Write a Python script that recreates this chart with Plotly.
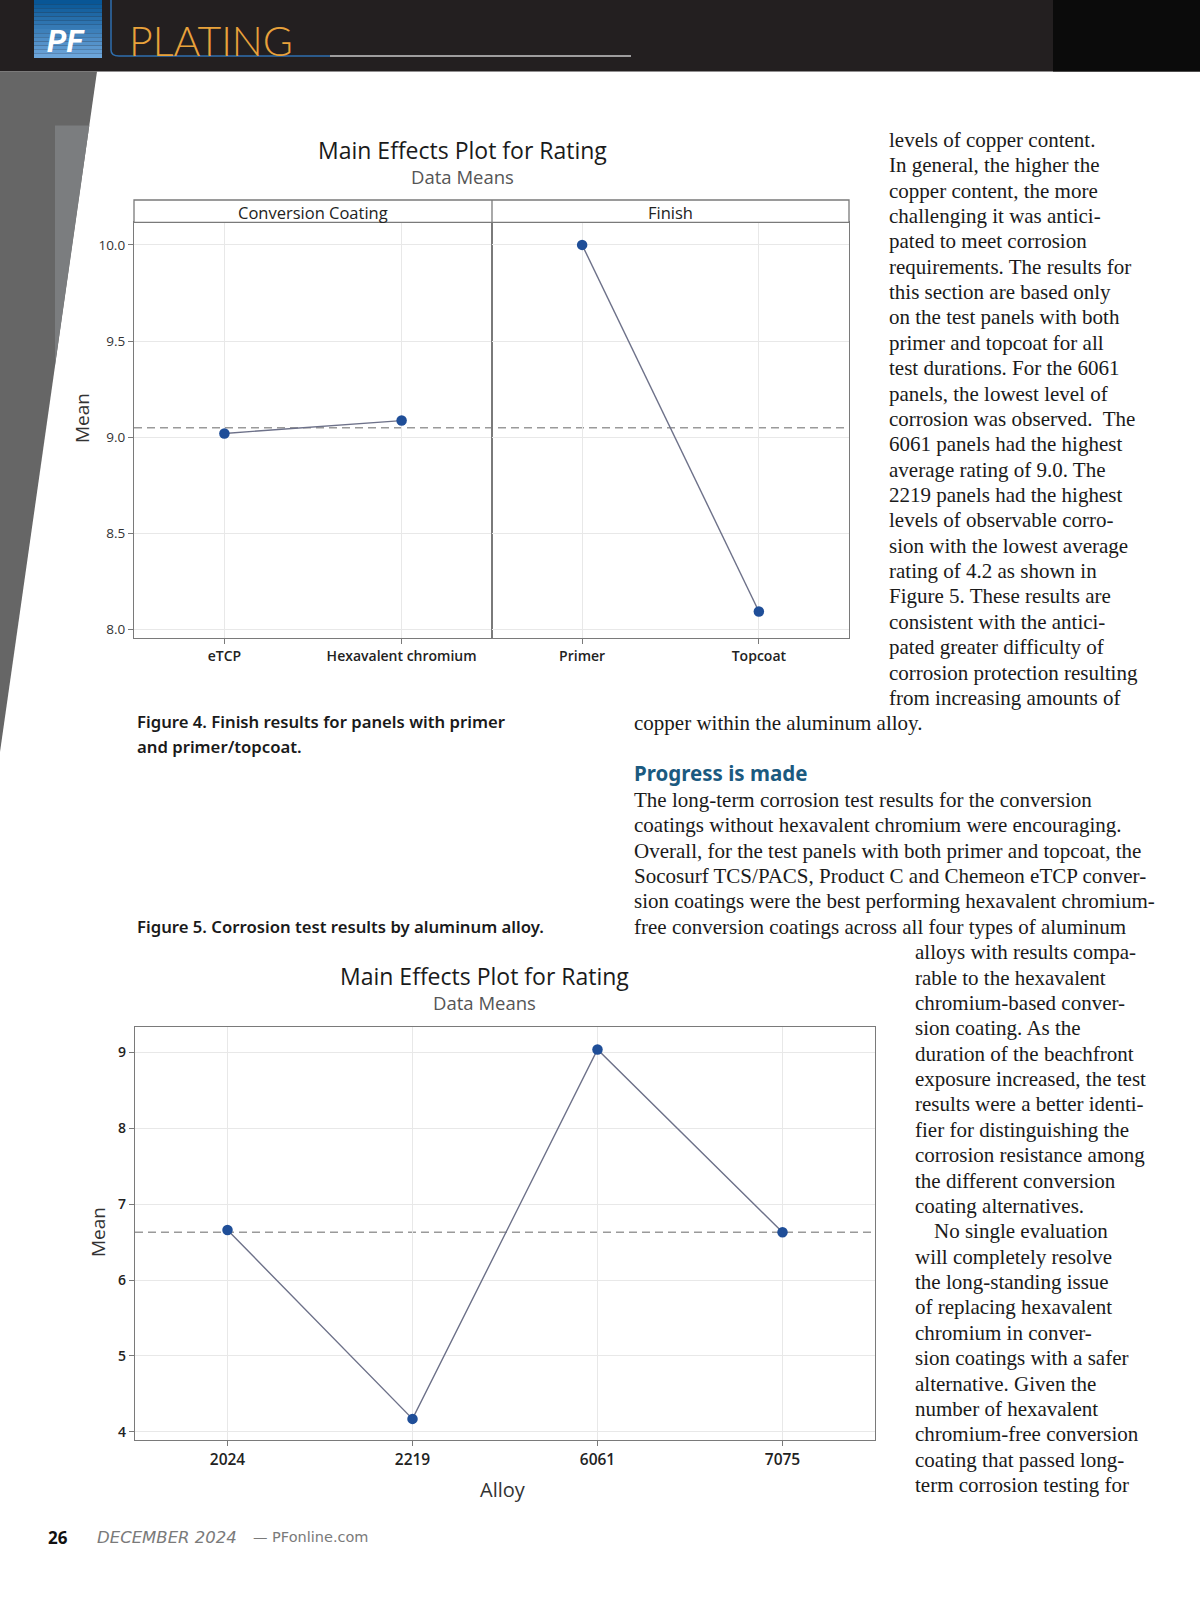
import plotly.graph_objects as go
import numpy as np

# ---------------- data ----------------
coating_levels = ["eTCP", "Hexavalent chromium"]
coating_means = [9.02, 9.087]
finish_levels = ["Primer", "Topcoat"]
finish_means = [10.0, 8.095]
top_grand_mean = 9.05
top_yticks = [8.0, 8.5, 9.0, 9.5, 10.0]
top_yticklabels = ["8.0", "8.5", "9.0", "9.5", "10.0"]

alloy_levels = ["2024", "2219", "6061", "7075"]
alloy_means = [6.66, 4.17, 9.04, 6.63]
bottom_grand_mean = 6.63
bottom_yticks = [4, 5, 6, 7, 8, 9]

col1_lines = [
    "levels of copper content.",
    "In general, the higher the",
    "copper content, the more",
    "challenging it was antici-",
    "pated to meet corrosion",
    "requirements. The results for",
    "this section are based only",
    "on the test panels with both",
    "primer and topcoat for all",
    "test durations. For the 6061",
    "panels, the lowest level of",
    "corrosion was observed.  The",
    "6061 panels had the highest",
    "average rating of 9.0. The",
    "2219 panels had the highest",
    "levels of observable corro-",
    "sion with the lowest average",
    "rating of 4.2 as shown in",
    "Figure 5. These results are",
    "consistent with the antici-",
    "pated greater difficulty of",
    "corrosion protection resulting",
    "from increasing amounts of",
]
wide_line = "copper within the aluminum alloy."
heading = "Progress is made"
para_lines = [
    "The long-term corrosion test results for the conversion",
    "coatings without hexavalent chromium were encouraging.",
    "Overall, for the test panels with both primer and topcoat, the",
    "Socosurf TCS/PACS, Product C and Chemeon eTCP conver-",
    "sion coatings were the best performing hexavalent chromium-",
    "free conversion coatings across all four types of aluminum",
]
col2_lines = [
    "alloys with results compa-",
    "rable to the hexavalent",
    "chromium-based conver-",
    "sion coating. As the",
    "duration of the beachfront",
    "exposure increased, the test",
    "results were a better identi-",
    "fier for distinguishing the",
    "corrosion resistance among",
    "the different conversion",
    "coating alternatives.",
    "\tNo single evaluation",
    "will completely resolve",
    "the long-standing issue",
    "of replacing hexavalent",
    "chromium in conver-",
    "sion coatings with a safer",
    "alternative. Given the",
    "number of hexavalent",
    "chromium-free conversion",
    "coating that passed long-",
    "term corrosion testing for",
]
fig4_caption = ["Figure 4. Finish results for panels with primer", "and primer/topcoat."]
fig5_caption = "Figure 5. Corrosion test results by aluminum alloy."

# ---------------- helpers ----------------
W, H = 1200, 1600
def px(x):
    return x / W
def py(y):
    return 1 - y / H

CHART_FONT = "Open Sans"
SERIF = "Liberation Serif"
SANS = "Noto Sans"
LINE_C = "#6d7189"
MARK_C = "#1f4e98"
AX_C = "#7a7a7a"
GRID_C = "#e8e8e8"

def txt(text, x, y, font, xanchor="center", yanchor="middle", **kw):
    d = dict(text=text, x=px(x), y=py(y), xref="paper", yref="paper",
             xanchor=xanchor, yanchor=yanchor, showarrow=False, font=font)
    d.update(kw)
    return d

fig = go.Figure()

# ---------------- top chart ----------------
fig.add_trace(go.Scatter(x=coating_levels, y=coating_means, xaxis="x", yaxis="y",
                         mode="lines+markers", line=dict(color=LINE_C, width=1.4),
                         marker=dict(color=MARK_C, size=10.5), showlegend=False))
fig.add_trace(go.Scatter(x=finish_levels, y=finish_means, xaxis="x2", yaxis="y2",
                         mode="lines+markers", line=dict(color=LINE_C, width=1.4),
                         marker=dict(color=MARK_C, size=10.5), showlegend=False))
# ---------------- bottom chart ----------------
fig.add_trace(go.Scatter(x=alloy_levels, y=alloy_means, xaxis="x3", yaxis="y3",
                         mode="lines+markers", line=dict(color=LINE_C, width=1.4),
                         marker=dict(color=MARK_C, size=10.5), showlegend=False))

top_x0, top_xm, top_x1 = 134, 492, 849
top_strip_top, top_strip_bot, top_bot = 200, 222.4, 638
bot_x0, bot_x1, bot_y0, bot_y1 = 135, 875, 1027, 1440

ax_common = dict(type="category", showgrid=True, gridcolor=GRID_C, gridwidth=1,
                 showline=True, linecolor=AX_C, linewidth=1.3, mirror=True,
                 ticks="outside", ticklen=5, tickcolor=AX_C, zeroline=False,
                 tickfont=dict(family=CHART_FONT, size=14, color="#222", weight=600))
ay_common = dict(showgrid=True, gridcolor=GRID_C, gridwidth=1, showline=True,
                 linecolor=AX_C, linewidth=1.3, mirror=True, ticks="outside",
                 ticklen=5, tickcolor=AX_C, zeroline=False,
                 tickfont=dict(family=CHART_FONT, size=13.5, color="#333", weight=500))

fig.update_layout(
    xaxis=dict(ax_common, domain=[px(top_x0), px(top_xm)], anchor="y", range=[-0.51, 1.51]),
    yaxis=dict(ay_common, domain=[py(top_bot), py(top_strip_bot)], anchor="x",
               range=[7.957, 10.117], tickvals=top_yticks, ticktext=top_yticklabels),
    xaxis2=dict(ax_common, domain=[px(top_xm), px(top_x1)], anchor="y2", range=[-0.51, 1.51]),
    yaxis2=dict(ay_common, domain=[py(top_bot), py(top_strip_bot)], anchor="x2",
                matches="y", showticklabels=False, ticks=""),
    xaxis3=dict(ax_common, domain=[px(bot_x0), px(bot_x1)], anchor="y3", range=[-0.5, 3.5],
                tickfont=dict(family=CHART_FONT, size=15.5, color="#222", weight=600)),
    yaxis3=dict(ay_common, domain=[py(bot_y1), py(bot_y0)], anchor="x3",
                range=[3.892, 9.336], tickvals=bottom_yticks,
                tickfont=dict(family=CHART_FONT, size=14, color="#222", weight=600)),
)

shapes = []
annots = []

# header
shapes.append(dict(type="rect", xref="paper", yref="paper", x0=0, x1=1, y0=py(71.4), y1=1,
                   fillcolor="#231f20", line_width=0, layer="below"))
shapes.append(dict(type="rect", xref="paper", yref="paper", x0=px(1053), x1=1, y0=py(71.4), y1=1,
                   fillcolor="#0b0b0b", line_width=0, layer="below"))
# PF logo gradient
nb = 14
c_top = np.array([8, 86, 150]); c_bot = np.array([108, 165, 218])
for i in range(nb):
    t = i / (nb - 1)
    c = (c_top * (1 - t) + c_bot * t).astype(int)
    shapes.append(dict(type="rect", xref="paper", yref="paper",
                       x0=px(34), x1=px(102), y0=py(58 * (i + 1) / nb), y1=py(58 * i / nb),
                       fillcolor="rgb(%d,%d,%d)" % tuple(c), line_width=0, layer="below"))
annots.append(txt("<b><i>PF</i></b>", 66, 42, dict(family="Roboto", size=31, color="white", weight=900)))
# blue frame line and rule
shapes.append(dict(type="path", xref="paper", yref="paper",
                   path="M %f %f L %f %f Q %f %f %f %f L %f %f" % (
                       px(111), py(0), px(111), py(50), px(111), py(56), px(119), py(56), px(330), py(56)),
                   line=dict(color="#2f6fae", width=1.5), layer="below"))
shapes.append(dict(type="line", xref="paper", yref="paper", x0=px(330), x1=px(631), y0=py(56), y1=py(56),
                   line=dict(color="#c9c9c9", width=1.5), layer="below"))
annots.append(txt("PLATING", 127, 40.5, dict(family="Lato", size=41, color="#e9a23b", weight=300),
                  xanchor="left"))

# left gray wedge
shapes.append(dict(type="path", xref="paper", yref="paper",
                   path="M 0 %f L %f %f L 0 %f Z" % (py(71.4), px(97), py(71.4), py(752)),
                   fillcolor="#666666", line_width=0, layer="below"))
shapes.append(dict(type="path", xref="paper", yref="paper",
                   path="M %f %f L %f %f L %f %f Z" % (px(55), py(125.5), px(89.3), py(125.5), px(55), py(365)),
                   fillcolor="#7b7d7f", line_width=0, layer="below"))

# top strip
shapes.append(dict(type="rect", xref="paper", yref="paper", x0=px(top_x0), x1=px(top_x1),
                   y0=py(top_strip_bot), y1=py(top_strip_top), line=dict(color=AX_C, width=1.3),
                   fillcolor="white"))
shapes.append(dict(type="line", xref="paper", yref="paper", x0=px(top_xm), x1=px(top_xm),
                   y0=py(top_strip_bot), y1=py(top_strip_top), line=dict(color=AX_C, width=1.3)))
strip_font = dict(family=CHART_FONT, size=16.5, color="#222")
annots.append(txt("Conversion Coating", (top_x0 + top_xm) / 2, 213, strip_font))
annots.append(txt("Finish", (top_xm + top_x1) / 2, 213, strip_font))
# mean reference lines
shapes.append(dict(type="line", xref="paper", yref="y", x0=px(top_x0), x1=px(top_x1),
                   y0=top_grand_mean, y1=top_grand_mean,
                   line=dict(color="#9a9a9a", width=1.5, dash="8px,5px"), layer="between"))
shapes.append(dict(type="line", xref="paper", yref="y3", x0=px(bot_x0), x1=px(bot_x1),
                   y0=bottom_grand_mean, y1=bottom_grand_mean,
                   line=dict(color="#9a9a9a", width=1.5, dash="8px,5px"), layer="between"))

# chart titles
for cx, ty, sy in [(462, 150, 177), (484, 976, 1003)]:
    annots.append(txt("Main Effects Plot for Rating", cx, ty, dict(family=CHART_FONT, size=23, color="#1a1a1a")))
    annots.append(txt("Data Means", cx, sy, dict(family=CHART_FONT, size=18.5, color="#555")))
annots.append(txt("Mean", 82, 418, dict(family=CHART_FONT, size=19, color="#333"), textangle=-90))
annots.append(txt("Mean", 98, 1232, dict(family=CHART_FONT, size=19, color="#333"), textangle=-90))
annots.append(txt("Alloy", 503, 1489, dict(family=CHART_FONT, size=20, color="#333")))

# captions
cap_font = dict(family=SANS, size=16.7, color="#1a1a1a", weight=600)
for i, t in enumerate(fig4_caption):
    annots.append(txt(t, 135, 722 + 24 * i, cap_font, xanchor="left"))
annots.append(txt(fig5_caption, 135, 926.5, cap_font, xanchor="left"))

# body text
LS = 25.37
body_font = dict(family=SERIF, size=21, color="#1a1a1a")
def add_line(t, x, y):
    indent = 0
    if t.startswith("\t"):
        t = t[1:]
        indent = 18.5
    annots.append(txt(t, x + indent, y, body_font, xanchor="left"))

for i, t in enumerate(col1_lines):
    add_line(t, 887, 139.8 + LS * i)
add_line(wide_line, 632, 139.8 + LS * len(col1_lines))
annots.append(txt(heading, 632, 772.5, dict(family=SANS, size=20.5, color="#1b5a80", weight=700),
                  xanchor="left"))
for i, t in enumerate(para_lines):
    add_line(t, 632, 800 + LS * i)
for i, t in enumerate(col2_lines):
    add_line(t, 913, 800 + LS * (len(para_lines) + i))

# footer
annots.append(txt("<b>26</b>", 46, 1537, dict(family=SANS, size=17, color="#111"), xanchor="left"))
annots.append(txt("<i>DECEMBER 2024</i>", 95, 1537,
                  dict(family="DejaVu Sans", size=16.5, color="#7a7a7a"), xanchor="left"))
annots.append(txt("— PFonline.com", 251, 1537,
                  dict(family="DejaVu Sans", size=14.5, color="#7a7a7a"), xanchor="left"))

fig.update_layout(width=W, height=H, margin=dict(l=0, r=0, t=0, b=0),
                  paper_bgcolor="white", plot_bgcolor="white",
                  shapes=shapes, annotations=annots, showlegend=False)

fig.write_html("out.html", config={"displayModeBar": False},
               post_script="document.body.style.margin='0px';")
